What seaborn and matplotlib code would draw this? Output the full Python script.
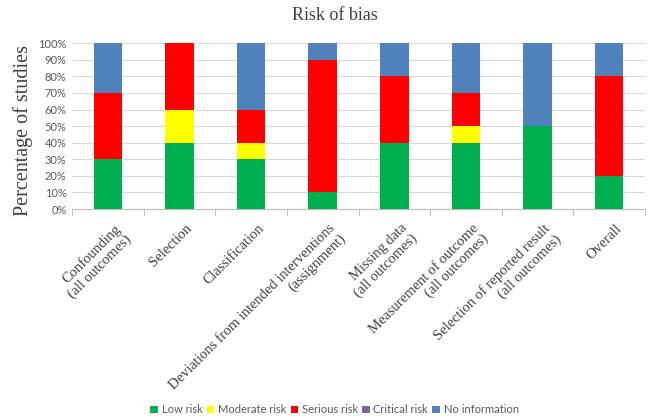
import matplotlib
matplotlib.use("Agg")
import matplotlib.pyplot as plt
import matplotlib.transforms as mtransforms
import seaborn as sns
import pandas as pd
import numpy as np
from matplotlib.patches import Patch

domains = [
    "Confounding\n(all outcomes)",
    "Selection",
    "Classification",
    "Deviations from intended interventions\n(assignment)",
    "Missing data\n(all outcomes)",
    "Measurement of outcome\n(all outcomes)",
    "Selection of reported result\n(all outcomes)",
    "Overall",
]
low_risk = [30, 40, 30, 10, 40, 40, 50, 20]
moderate_risk = [0, 20, 10, 0, 0, 10, 0, 0]
serious_risk = [40, 40, 20, 80, 40, 20, 0, 60]
critical_risk = [0, 0, 0, 0, 0, 0, 0, 0]
no_information = [30, 0, 40, 10, 20, 30, 50, 20]

levels = ["Low risk", "Moderate risk", "Serious risk", "Critical risk", "No information"]
colors = ["#00B050", "#FFFF00", "#FF0000", "#8064A2", "#4F81BD"]
series = [low_risk, moderate_risk, serious_risk, critical_risk, no_information]

sns.set_theme(style="white")
serif = ["Liberation Serif", "DejaVu Serif"]
sans = ["Lato", "DejaVu Sans"]

fig = plt.figure(figsize=(6.56, 4.19), dpi=100)
ax = fig.add_axes([0.110, 0.501, 0.873, 0.396])

# stacked bars: draw cumulative totals from the top segment down so each
# lower segment is painted over the one above it
cum = np.cumsum(np.array(series), axis=0)
for i in range(len(levels) - 1, -1, -1):
    df = pd.DataFrame({"domain": domains, "value": cum[i]})
    sns.barplot(data=df, x="domain", y="value", color=colors[i], saturation=1,
                width=0.40, ax=ax, linewidth=0, zorder=3)

ax.set_ylim(0, 100)
ax.set_xlim(-0.5, len(domains) - 0.5)
ax.set_yticks(range(0, 101, 10))
ax.set_yticklabels([f"{v}%" for v in range(0, 101, 10)], fontsize=8,
                   color="#595959", family=sans)
ax.yaxis.grid(True, color="#D9D9D9", linewidth=0.8, zorder=0)
ax.set_axisbelow(True)
ax.tick_params(axis="y", length=0, pad=4)

# category labels, slanted
ax.set_xticks(range(len(domains)))
ax.set_xticklabels(domains, rotation=45, ha="right", va="top",
                   rotation_mode="anchor", fontsize=10.5, family=serif,
                   color="#404040", linespacing=1.1)
ax.tick_params(axis="x", length=0, pad=9)
shift = mtransforms.ScaledTranslation(0.06, 0, fig.dpi_scale_trans)
for lab in ax.get_xticklabels():
    lab.set_transform(lab.get_transform() + shift)

# boundary tick marks between categories
for b in np.arange(-0.5, len(domains) - 0.4, 1.0):
    ax.plot([b, b], [0, -3.5], color="#BFBFBF", lw=0.8, clip_on=False, zorder=4)

for s in ["top", "right", "left"]:
    ax.spines[s].set_visible(False)
ax.spines["bottom"].set_color("#BFBFBF")
ax.spines["bottom"].set_linewidth(0.8)

ax.set_xlabel("")
ax.set_ylabel("")
fig.text(23 / 656, 1 - 131 / 419, "Percentage of studies", rotation=90,
         ha="center", va="center", fontsize=14.5, family=serif, color="#404040")
fig.text(335 / 656, 1 - 15 / 419, "Risk of bias", ha="center", va="center",
         fontsize=13, family=serif, color="#404040")

handles = [Patch(facecolor=c, edgecolor="none") for c in colors]
fig.legend(handles, levels, loc="center", bbox_to_anchor=(0.51, 0.022),
           ncol=5, frameon=False, handlelength=0.7, handleheight=0.7,
           handletextpad=0.3, columnspacing=0.4,
           prop={"family": sans, "size": 8}, labelcolor="#595959")

fig.savefig("out.png", dpi=100)
